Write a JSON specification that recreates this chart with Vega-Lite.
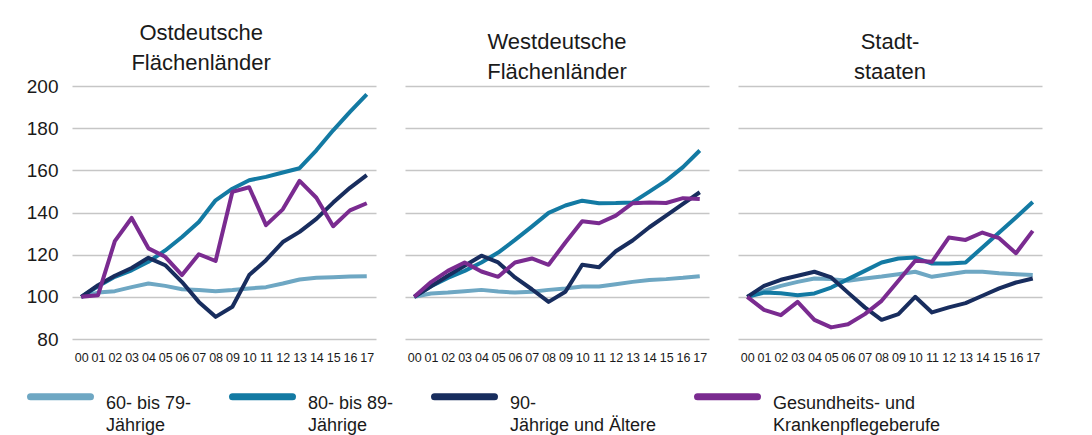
{
 "$schema": "https://vega.github.io/schema/vega-lite/v6.json",
 "padding": {"left": 26, "top": 22, "right": 5, "bottom": 2},
 "background": "white",
 "datasets": {
  "d": [
   {"region":"ost","group":"A","year":"00","value":100},{"region":"ost","group":"A","year":"01","value":102},{"region":"ost","group":"A","year":"02","value":102.7},{"region":"ost","group":"A","year":"03","value":104.6},{"region":"ost","group":"A","year":"04","value":106.3},{"region":"ost","group":"A","year":"05","value":105.2},{"region":"ost","group":"A","year":"06","value":103.6},{"region":"ost","group":"A","year":"07","value":103.2},{"region":"ost","group":"A","year":"08","value":102.7},{"region":"ost","group":"A","year":"09","value":103.2},{"region":"ost","group":"A","year":"10","value":104},{"region":"ost","group":"A","year":"11","value":104.6},{"region":"ost","group":"A","year":"12","value":106.3},{"region":"ost","group":"A","year":"13","value":108.2},{"region":"ost","group":"A","year":"14","value":109},{"region":"ost","group":"A","year":"15","value":109.3},{"region":"ost","group":"A","year":"16","value":109.6},{"region":"ost","group":"A","year":"17","value":109.8},
   {"region":"ost","group":"B","year":"00","value":100},{"region":"ost","group":"B","year":"01","value":105},{"region":"ost","group":"B","year":"02","value":109.5},{"region":"ost","group":"B","year":"03","value":112.6},{"region":"ost","group":"B","year":"04","value":116.6},{"region":"ost","group":"B","year":"05","value":122},{"region":"ost","group":"B","year":"06","value":128.4},{"region":"ost","group":"B","year":"07","value":135.5},{"region":"ost","group":"B","year":"08","value":145.8},{"region":"ost","group":"B","year":"09","value":151.3},{"region":"ost","group":"B","year":"10","value":155.3},{"region":"ost","group":"B","year":"11","value":156.9},{"region":"ost","group":"B","year":"12","value":159},{"region":"ost","group":"B","year":"13","value":161},{"region":"ost","group":"B","year":"14","value":169.5},{"region":"ost","group":"B","year":"15","value":179},{"region":"ost","group":"B","year":"16","value":187.7},{"region":"ost","group":"B","year":"17","value":196},
   {"region":"ost","group":"C","year":"00","value":100},{"region":"ost","group":"C","year":"01","value":105.5},{"region":"ost","group":"C","year":"02","value":110},{"region":"ost","group":"C","year":"03","value":113.7},{"region":"ost","group":"C","year":"04","value":118.5},{"region":"ost","group":"C","year":"05","value":115},{"region":"ost","group":"C","year":"06","value":107},{"region":"ost","group":"C","year":"07","value":97.6},{"region":"ost","group":"C","year":"08","value":90.5},{"region":"ost","group":"C","year":"09","value":95.3},{"region":"ost","group":"C","year":"10","value":110.3},{"region":"ost","group":"C","year":"11","value":117.4},{"region":"ost","group":"C","year":"12","value":126},{"region":"ost","group":"C","year":"13","value":130.8},{"region":"ost","group":"C","year":"14","value":137},{"region":"ost","group":"C","year":"15","value":144.7},{"region":"ost","group":"C","year":"16","value":151.7},{"region":"ost","group":"C","year":"17","value":157.7},
   {"region":"ost","group":"D","year":"00","value":100},{"region":"ost","group":"D","year":"01","value":100.8},{"region":"ost","group":"D","year":"02","value":126.4},{"region":"ost","group":"D","year":"03","value":137.4},{"region":"ost","group":"D","year":"04","value":123},{"region":"ost","group":"D","year":"05","value":119},{"region":"ost","group":"D","year":"06","value":110.3},{"region":"ost","group":"D","year":"07","value":120.2},{"region":"ost","group":"D","year":"08","value":117},{"region":"ost","group":"D","year":"09","value":149.8},{"region":"ost","group":"D","year":"10","value":152},{"region":"ost","group":"D","year":"11","value":134},{"region":"ost","group":"D","year":"12","value":141.5},{"region":"ost","group":"D","year":"13","value":155},{"region":"ost","group":"D","year":"14","value":147},{"region":"ost","group":"D","year":"15","value":133.5},{"region":"ost","group":"D","year":"16","value":141},{"region":"ost","group":"D","year":"17","value":144.4},
   {"region":"west","group":"A","year":"00","value":100},{"region":"west","group":"A","year":"01","value":101.6},{"region":"west","group":"A","year":"02","value":102},{"region":"west","group":"A","year":"03","value":102.7},{"region":"west","group":"A","year":"04","value":103.3},{"region":"west","group":"A","year":"05","value":102.5},{"region":"west","group":"A","year":"06","value":102},{"region":"west","group":"A","year":"07","value":102.4},{"region":"west","group":"A","year":"08","value":103.3},{"region":"west","group":"A","year":"09","value":104},{"region":"west","group":"A","year":"10","value":104.9},{"region":"west","group":"A","year":"11","value":104.9},{"region":"west","group":"A","year":"12","value":106},{"region":"west","group":"A","year":"13","value":107.1},{"region":"west","group":"A","year":"14","value":108},{"region":"west","group":"A","year":"15","value":108.4},{"region":"west","group":"A","year":"16","value":109},{"region":"west","group":"A","year":"17","value":109.8},
   {"region":"west","group":"B","year":"00","value":100},{"region":"west","group":"B","year":"01","value":105},{"region":"west","group":"B","year":"02","value":109},{"region":"west","group":"B","year":"03","value":112.3},{"region":"west","group":"B","year":"04","value":116.3},{"region":"west","group":"B","year":"05","value":121},{"region":"west","group":"B","year":"06","value":127},{"region":"west","group":"B","year":"07","value":133.3},{"region":"west","group":"B","year":"08","value":139.8},{"region":"west","group":"B","year":"09","value":143.3},{"region":"west","group":"B","year":"10","value":145.6},{"region":"west","group":"B","year":"11","value":144.4},{"region":"west","group":"B","year":"12","value":144.5},{"region":"west","group":"B","year":"13","value":144.8},{"region":"west","group":"B","year":"14","value":149.9},{"region":"west","group":"B","year":"15","value":155.1},{"region":"west","group":"B","year":"16","value":161.5},{"region":"west","group":"B","year":"17","value":169.4},
   {"region":"west","group":"C","year":"00","value":100},{"region":"west","group":"C","year":"01","value":105},{"region":"west","group":"C","year":"02","value":110},{"region":"west","group":"C","year":"03","value":114.7},{"region":"west","group":"C","year":"04","value":119.5},{"region":"west","group":"C","year":"05","value":116.3},{"region":"west","group":"C","year":"06","value":109.2},{"region":"west","group":"C","year":"07","value":103.6},{"region":"west","group":"C","year":"08","value":97.6},{"region":"west","group":"C","year":"09","value":102.4},{"region":"west","group":"C","year":"10","value":115.2},{"region":"west","group":"C","year":"11","value":114},{"region":"west","group":"C","year":"12","value":121.6},{"region":"west","group":"C","year":"13","value":126.7},{"region":"west","group":"C","year":"14","value":133},{"region":"west","group":"C","year":"15","value":138.5},{"region":"west","group":"C","year":"16","value":144.1},{"region":"west","group":"C","year":"17","value":149.6},
   {"region":"west","group":"D","year":"00","value":100},{"region":"west","group":"D","year":"01","value":107},{"region":"west","group":"D","year":"02","value":112.3},{"region":"west","group":"D","year":"03","value":116.3},{"region":"west","group":"D","year":"04","value":112},{"region":"west","group":"D","year":"05","value":109.5},{"region":"west","group":"D","year":"06","value":116.3},{"region":"west","group":"D","year":"07","value":118.2},{"region":"west","group":"D","year":"08","value":115.2},{"region":"west","group":"D","year":"09","value":125.8},{"region":"west","group":"D","year":"10","value":135.8},{"region":"west","group":"D","year":"11","value":134.9},{"region":"west","group":"D","year":"12","value":138.5},{"region":"west","group":"D","year":"13","value":144.4},{"region":"west","group":"D","year":"14","value":144.8},{"region":"west","group":"D","year":"15","value":144.5},{"region":"west","group":"D","year":"16","value":146.8},{"region":"west","group":"D","year":"17","value":146.4},
   {"region":"stadt","group":"A","year":"00","value":100},{"region":"stadt","group":"A","year":"01","value":102.8},{"region":"stadt","group":"A","year":"02","value":105.2},{"region":"stadt","group":"A","year":"03","value":107.1},{"region":"stadt","group":"A","year":"04","value":108.7},{"region":"stadt","group":"A","year":"05","value":108.4},{"region":"stadt","group":"A","year":"06","value":107.6},{"region":"stadt","group":"A","year":"07","value":108.7},{"region":"stadt","group":"A","year":"08","value":109.6},{"region":"stadt","group":"A","year":"09","value":110.7},{"region":"stadt","group":"A","year":"10","value":111.9},{"region":"stadt","group":"A","year":"11","value":109.5},{"region":"stadt","group":"A","year":"12","value":110.7},{"region":"stadt","group":"A","year":"13","value":111.9},{"region":"stadt","group":"A","year":"14","value":111.9},{"region":"stadt","group":"A","year":"15","value":111.2},{"region":"stadt","group":"A","year":"16","value":110.7},{"region":"stadt","group":"A","year":"17","value":110.3},
   {"region":"stadt","group":"B","year":"00","value":100},{"region":"stadt","group":"B","year":"01","value":102},{"region":"stadt","group":"B","year":"02","value":101.7},{"region":"stadt","group":"B","year":"03","value":100.8},{"region":"stadt","group":"B","year":"04","value":101.6},{"region":"stadt","group":"B","year":"05","value":104.4},{"region":"stadt","group":"B","year":"06","value":108.4},{"region":"stadt","group":"B","year":"07","value":112.3},{"region":"stadt","group":"B","year":"08","value":116.3},{"region":"stadt","group":"B","year":"09","value":118.2},{"region":"stadt","group":"B","year":"10","value":118.6},{"region":"stadt","group":"B","year":"11","value":115.8},{"region":"stadt","group":"B","year":"12","value":115.8},{"region":"stadt","group":"B","year":"13","value":116.3},{"region":"stadt","group":"B","year":"14","value":123.4},{"region":"stadt","group":"B","year":"15","value":130.5},{"region":"stadt","group":"B","year":"16","value":137.6},{"region":"stadt","group":"B","year":"17","value":145},
   {"region":"stadt","group":"C","year":"00","value":100},{"region":"stadt","group":"C","year":"01","value":105.2},{"region":"stadt","group":"C","year":"02","value":108.1},{"region":"stadt","group":"C","year":"03","value":110},{"region":"stadt","group":"C","year":"04","value":111.9},{"region":"stadt","group":"C","year":"05","value":109.2},{"region":"stadt","group":"C","year":"06","value":102},{"region":"stadt","group":"C","year":"07","value":95},{"region":"stadt","group":"C","year":"08","value":89.1},{"region":"stadt","group":"C","year":"09","value":91.8},{"region":"stadt","group":"C","year":"10","value":100},{"region":"stadt","group":"C","year":"11","value":92.6},{"region":"stadt","group":"C","year":"12","value":95},{"region":"stadt","group":"C","year":"13","value":97},{"region":"stadt","group":"C","year":"14","value":100.5},{"region":"stadt","group":"C","year":"15","value":104},{"region":"stadt","group":"C","year":"16","value":106.8},{"region":"stadt","group":"C","year":"17","value":108.7},
   {"region":"stadt","group":"D","year":"00","value":100},{"region":"stadt","group":"D","year":"01","value":93.8},{"region":"stadt","group":"D","year":"02","value":91.3},{"region":"stadt","group":"D","year":"03","value":97.6},{"region":"stadt","group":"D","year":"04","value":89.1},{"region":"stadt","group":"D","year":"05","value":85.5},{"region":"stadt","group":"D","year":"06","value":87},{"region":"stadt","group":"D","year":"07","value":91.8},{"region":"stadt","group":"D","year":"08","value":98.1},{"region":"stadt","group":"D","year":"09","value":107.6},{"region":"stadt","group":"D","year":"10","value":117.1},{"region":"stadt","group":"D","year":"11","value":116.6},{"region":"stadt","group":"D","year":"12","value":128.1},{"region":"stadt","group":"D","year":"13","value":127},{"region":"stadt","group":"D","year":"14","value":130.5},{"region":"stadt","group":"D","year":"15","value":127.8},{"region":"stadt","group":"D","year":"16","value":120.7},{"region":"stadt","group":"D","year":"17","value":131.3}
  ]
 },
 "data": {"name": "d"},
 "spacing": 29,
 "hconcat": [
  {
   "width": 304, "height": 253,
   "title": {"text": ["Ostdeutsche", "Flächenländer"]},
   "transform": [{"filter": "datum.region === 'ost'"}],
   "mark": {"type": "line", "strokeWidth": 4, "strokeJoin": "round"},
   "encoding": {
    "x": {"field": "year", "type": "ordinal", "scale": {"type": "point", "padding": 0.55}, "axis": {"title": null}},
    "y": {"field": "value", "type": "quantitative", "scale": {"domain": [80, 200], "nice": false, "zero": false}, "axis": {"title": null, "values": [80, 100, 120, 140, 160, 180, 200]}},
    "color": {"field": "group", "type": "nominal", "scale": {"domain": ["A", "B", "C", "D"], "range": ["#6ea7c3", "#137aa3", "#182d5e", "#7a2b90"]}}
   }
  },
  {
   "width": 304, "height": 253,
   "title": {"text": ["Westdeutsche", "Flächenländer"]},
   "transform": [{"filter": "datum.region === 'west'"}],
   "mark": {"type": "line", "strokeWidth": 4, "strokeJoin": "round"},
   "encoding": {
    "x": {"field": "year", "type": "ordinal", "scale": {"type": "point", "padding": 0.55}, "axis": {"title": null}},
    "y": {"field": "value", "type": "quantitative", "scale": {"domain": [80, 200], "nice": false, "zero": false}, "axis": {"title": null, "labels": false, "values": [80, 100, 120, 140, 160, 180, 200]}},
    "color": {"field": "group", "type": "nominal", "scale": {"domain": ["A", "B", "C", "D"], "range": ["#6ea7c3", "#137aa3", "#182d5e", "#7a2b90"]}}
   }
  },
  {
   "width": 304, "height": 253,
   "title": {"text": ["Stadt-", "staaten"]},
   "transform": [{"filter": "datum.region === 'stadt'"}],
   "mark": {"type": "line", "strokeWidth": 4, "strokeJoin": "round"},
   "encoding": {
    "x": {"field": "year", "type": "ordinal", "scale": {"type": "point", "padding": 0.55}, "axis": {"title": null}},
    "y": {"field": "value", "type": "quantitative", "scale": {"domain": [80, 200], "nice": false, "zero": false}, "axis": {"title": null, "labels": false, "values": [80, 100, 120, 140, 160, 180, 200]}},
    "color": {"field": "group", "type": "nominal", "scale": {"domain": ["A", "B", "C", "D"], "range": ["#6ea7c3", "#137aa3", "#182d5e", "#7a2b90"]},
     "legend": {
      "title": null, "orient": "none", "legendX": -45, "legendY": 277, "direction": "horizontal", "columns": 4,
      "symbolType": "stroke", "symbolSize": 3600, "symbolStrokeWidth": 7,
      "labelFont": "Liberation Sans", "labelFontSize": 18, "labelColor": "#1a1a1a",
      "labelExpr": "datum.label === 'A' ? ['60- bis 79-', 'Jährige'] : datum.label === 'B' ? ['80- bis 89-', 'Jährige'] : datum.label === 'C' ? ['90-', 'Jährige und Ältere'] : ['Gesundheits- und', 'Krankenpflegeberufe']",
      "labelBaseline": "top", "labelOffset": 12, "columnPadding": 26, "labelLimit": 300,
      "encode": {"symbols": {"update": {"strokeCap": {"value": "round"}}}, "labels": {"update": {"lineHeight": {"value": 22}, "dy": {"value": -2}}}}
     }}
   }
  }
 ],
 "resolve": {"scale": {"color": "shared"}},
 "config": {
  "view": {"stroke": null},
  "axis": {"labelFont": "Liberation Sans", "labelColor": "#1a1a1a", "gridColor": "#c6c6c6", "gridWidth": 1.5, "domain": false, "ticks": false},
  "axisY": {"labelFontSize": 19, "labelPadding": 14},
  "axisX": {"labelFontSize": 12.5, "labelPadding": 12, "grid": false, "labelAngle": 0, "labelOverlap": false},
  "title": {"font": "Liberation Sans", "fontSize": 22, "fontWeight": "normal", "color": "#1a1a1a", "lineHeight": 30, "offset": 2, "frame": "bounds"}
 }
}
